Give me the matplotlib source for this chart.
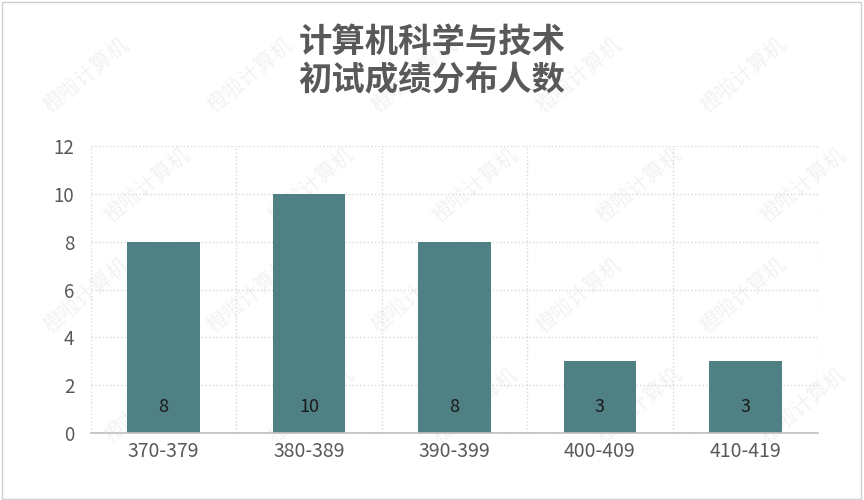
import matplotlib.pyplot as plt
from matplotlib.patches import Rectangle

plt.rcParams['font.family'] = ['Noto Sans CJK SC', 'DejaVu Sans']

## data
categories = ["370-379", "380-389", "390-399", "400-409", "410-419"]
counts = [8, 10, 8, 3, 3]
title_lines = ["计算机科学与技术", "初试成绩分布人数"]
yticks = [0, 2, 4, 6, 8, 10, 12]

bar_color = "#4f8083"
text_color = "#595959"

fig = plt.figure(figsize=(8.64, 5), dpi=100)
ax = fig.add_axes([0.1053, 0.134, 0.8415, 0.574])
ax.set_facecolor("none")

x = list(range(len(categories)))
ax.bar(x, counts, width=0.5, color=bar_color, zorder=3)
for xi, c in zip(x, counts):
    ax.text(xi, 1.1, str(c), ha="center", va="center", fontsize=13,
            color="#1a1a1a", zorder=4)

ax.set_xlim(-0.5, len(categories) - 0.5)
ax.set_ylim(0, 12)
ax.set_yticks(yticks)
ax.set_xticks(x)
ax.set_xticklabels(categories)
ax.set_xticks([i - 0.5 for i in range(len(categories) + 1)], minor=True)
ax.tick_params(axis="both", which="both", length=0, colors=text_color)
ax.tick_params(axis="x", labelsize=14, pad=6)
ax.tick_params(axis="y", labelsize=13.5, pad=12)
ax.grid(axis="y", which="major", color="#d9d9d9", linestyle=":", linewidth=1, zorder=0)
ax.grid(axis="x", which="minor", color="#d9d9d9", linestyle=":", linewidth=1, zorder=0)
ax.grid(axis="x", which="major", visible=False)
for s in ["top", "left", "right"]:
    ax.spines[s].set_visible(False)
ax.spines["bottom"].set_color("#bfbfbf")
ax.spines["bottom"].set_linewidth(1.2)
ax.spines["bottom"].set_zorder(4)

fig.text(0.5, 0.915, title_lines[0], ha="center", va="center", fontsize=24,
         fontweight="bold", color=text_color)
fig.text(0.5, 0.838, title_lines[1], ha="center", va="center", fontsize=24,
         fontweight="bold", color=text_color)

## faint watermark, kept behind the bars
for row in range(4):
    for col in range(5):
        fx = 0.1 + col * 0.19 + (row % 2) * 0.07
        fy = 0.85 - row * 0.22
        fig.text(fx, fy, "橙啦计算机", rotation=40, fontsize=15,
                 color="#e6e6e6", alpha=0.5, ha="center", va="center", zorder=-1)

fig.patches.append(Rectangle((0.002, 0.003), 0.995, 0.993, transform=fig.transFigure,
                             fill=False, edgecolor="#d0d0d0", linewidth=1))

fig.savefig("out.png", dpi=100)
